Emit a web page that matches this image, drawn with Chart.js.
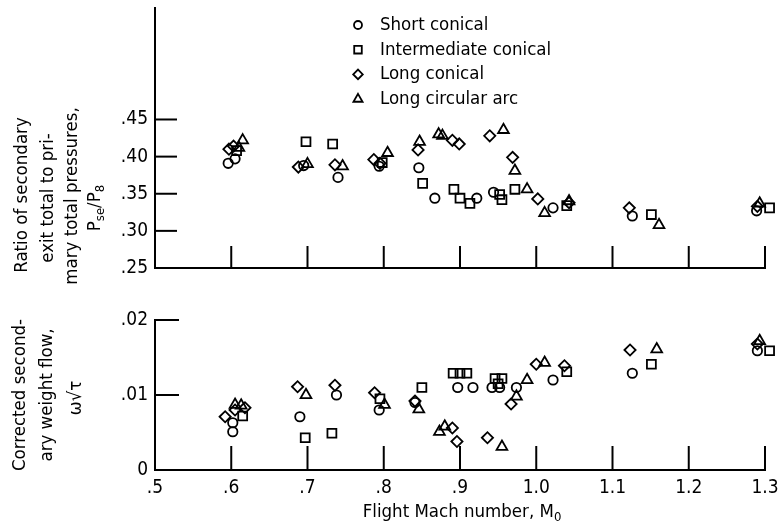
<!DOCTYPE html>
<html lang="en">
<head>
  <meta charset="UTF-8">
  <title>Secondary exit pressure ratio and weight flow</title>
  <script src="https://cdn.jsdelivr.net/npm/chart.js"></script>
  <style>
    body { margin: 0; background: #fff; }
    #wrap { position: relative; width: 783px; height: 530px; }
    #wrap canvas { position: absolute; left: 0; }
    #topChart { top: 0; }
    #botChart { top: 290px; }
  </style>
</head>
<body>
<div id="wrap">
  <canvas id="topChart" width="783" height="290"></canvas>
  <canvas id="botChart" width="783" height="240"></canvas>
</div>
<script>
  const seriesNames = ['Short conical', 'Intermediate conical', 'Long conical', 'Long circular arc'];
  const pointStyles = ['circle', 'rect', 'rectRot', 'triangle'];
  const pointSizes  = [4.7, 6.3, 5.6, 6.2];

  const xTickValues = [0.5, 0.6, 0.7, 0.8, 0.9, 1.0, 1.1, 1.2, 1.3];
  const xTickLabels = ['.5', '.6', '.7', '.8', '.9', '1.0', '1.1', '1.2', '1.3'];
  const ratioTickValues = [0.25, 0.30, 0.35, 0.40, 0.45];
  const ratioTickLabels = ['.25', '.30', '.35', '.40', '.45'];
  const flowTickValues = [0, 0.01, 0.02];
  const flowTickLabels = ['0', '.01', '.02'];

  // top panel: Pse/P8
  const shortMachTop = [0.596, 0.605, 0.695, 0.740, 0.794, 0.846, 0.867, 0.922, 0.944, 1.022, 1.126, 1.289];
  const shortRatio   = [0.391, 0.397, 0.388, 0.372, 0.387, 0.385, 0.344, 0.344, 0.352, 0.331, 0.320, 0.327];
  const interMachTop = [0.607, 0.698, 0.733, 0.798, 0.851, 0.892, 0.900, 0.913, 0.952, 0.955, 0.972, 1.040, 1.151, 1.306];
  const interRatio   = [0.408, 0.420, 0.417, 0.392, 0.364, 0.356, 0.344, 0.337, 0.349, 0.342, 0.356, 0.334, 0.322, 0.331];
  const longMachTop  = [0.597, 0.603, 0.688, 0.736, 0.787, 0.795, 0.845, 0.890, 0.899, 0.939, 0.969, 1.002, 1.043, 1.122, 1.290];
  const longRatio    = [0.410, 0.414, 0.386, 0.389, 0.396, 0.391, 0.409, 0.422, 0.417, 0.428, 0.399, 0.343, 0.338, 0.331, 0.333];
  const arcMachTop   = [0.610, 0.615, 0.700, 0.746, 0.805, 0.847, 0.872, 0.877, 0.957, 0.972, 0.988, 1.011, 1.043, 1.161, 1.293];
  const arcRatio     = [0.412, 0.422, 0.390, 0.387, 0.405, 0.420, 0.430, 0.428, 0.436, 0.381, 0.356, 0.324, 0.340, 0.308, 0.337];

  // bottom panel: corrected secondary weight flow
  const shortMachBot = [0.602, 0.602, 0.690, 0.738, 0.794, 0.841, 0.897, 0.917, 0.942, 0.952, 0.974, 1.022, 1.126, 1.290];
  const shortFlow    = [0.0063, 0.0051, 0.0071, 0.0100, 0.0080, 0.0090, 0.0110, 0.0110, 0.0110, 0.0110, 0.0110, 0.0120, 0.0129, 0.0159];
  const interMachBot = [0.615, 0.697, 0.732, 0.795, 0.850, 0.891, 0.900, 0.909, 0.946, 0.955, 0.950, 1.040, 1.151, 1.306];
  const interFlow    = [0.0072, 0.0043, 0.0049, 0.0095, 0.0110, 0.0129, 0.0129, 0.0129, 0.0122, 0.0122, 0.0115, 0.0131, 0.0141, 0.0159];
  const longMachBot  = [0.592, 0.605, 0.618, 0.687, 0.736, 0.788, 0.841, 0.890, 0.896, 0.936, 0.967, 1.000, 1.037, 1.123, 1.290];
  const longFlow     = [0.0071, 0.0080, 0.0083, 0.0111, 0.0113, 0.0103, 0.0092, 0.0056, 0.0038, 0.0043, 0.0088, 0.0141, 0.0139, 0.0160, 0.0168];
  const arcMachBot   = [0.605, 0.613, 0.698, 0.801, 0.846, 0.873, 0.880, 0.955, 0.974, 0.988, 1.011, 1.158, 1.293];
  const arcFlow      = [0.0087, 0.0086, 0.0100, 0.0087, 0.0081, 0.0051, 0.0058, 0.0031, 0.0098, 0.0120, 0.0143, 0.0161, 0.0172];

  const FONT = '"DejaVu Sans Condensed", "Liberation Sans Narrow", sans-serif';
  const TICK_SIZE = 19;
  const TEXT_SIZE = 18.5;

  function series(i, xs, ys) {
    return {
      label: seriesNames[i],
      data: xs.map((x, k) => ({ x: x, y: ys[k] })),
      pointStyle: pointStyles[i],
      pointRadius: pointSizes[i],
      pointBorderWidth: 1.8,
      pointBorderColor: '#000',
      pointBackgroundColor: 'rgba(0,0,0,0)',
      showLine: false,
      clip: false
    };
  }

  function fixedTicks(values, labels) {
    return {
      afterBuildTicks: s => { s.ticks = values.map(v => ({ value: v })); },
      labelFor: v => { const i = values.findIndex(t => Math.abs(t - v) < 1e-9); return i < 0 ? '' : labels[i]; }
    };
  }

  // tick marks point into the plot
  const inwardTicks = {
    id: 'inwardTicks',
    afterDraw(chart, args, opts) {
      const { ctx, chartArea: a, scales: { x, y } } = chart;
      ctx.save();
      ctx.strokeStyle = '#000';
      ctx.lineWidth = 2;
      opts.x.forEach(v => {
        const px = x.getPixelForValue(v);
        ctx.beginPath(); ctx.moveTo(px, a.bottom); ctx.lineTo(px, a.bottom - opts.len); ctx.stroke();
      });
      opts.y.forEach(v => {
        const py = y.getPixelForValue(v);
        ctx.beginPath(); ctx.moveTo(a.left, py); ctx.lineTo(a.left + opts.len, py); ctx.stroke();
      });
      ctx.restore();
    }
  };

  // draws text runs, some as subscripts, centred on (cx, cy)
  function drawRuns(ctx, runs, cx, cy, size, angle) {
    ctx.save();
    ctx.translate(cx, cy);
    ctx.rotate(angle);
    ctx.textBaseline = 'middle';
    ctx.textAlign = 'left';
    const fontFor = r => (r.sub ? Math.round(size * 0.72) : size) + 'px ' + FONT;
    let total = 0;
    runs.forEach(r => { ctx.font = fontFor(r); total += ctx.measureText(r.t).width; });
    let x = -total / 2;
    runs.forEach(r => {
      ctx.font = fontFor(r);
      ctx.fillText(r.t, x, r.sub ? size * 0.3 : 0);
      x += ctx.measureText(r.t).width;
    });
    ctx.restore();
  }

  const axisTitles = {
    id: 'axisTitles',
    afterDraw(chart, args, opts) {
      const ctx = chart.ctx;
      ctx.fillStyle = '#000';
      opts.lines.forEach(l => drawRuns(ctx, l.runs, l.x, l.y, opts.size, l.angle || 0));
    }
  };

  const scatterLegend = {
    id: 'scatterLegend',
    afterDraw(chart, args, opts) {
      if (!opts.show) return;
      const ctx = chart.ctx;
      ctx.save();
      chart.data.datasets.forEach((ds, i) => {
        const y = opts.y + i * opts.step;
        ctx.strokeStyle = '#000';
        ctx.fillStyle = 'rgba(0,0,0,0)';
        ctx.lineWidth = 1.8;
        Chart.helpers.drawPoint(ctx, { pointStyle: ds.pointStyle, radius: ds.pointRadius * 0.85, borderWidth: 1.8, rotation: 0 }, opts.x, y);
        ctx.fillStyle = '#000';
        ctx.font = opts.size + 'px ' + FONT;
        ctx.textBaseline = 'middle';
        ctx.fillText(ds.label, opts.x + 22, y);
      });
      ctx.restore();
    }
  };

  function baseScales(yValues, yLabels, yMax, showX, xHeight) {
    const xt = fixedTicks(xTickValues, xTickLabels);
    const yt = fixedTicks(yValues, yLabels);
    return {
      x: {
        type: 'linear', min: 0.5, max: 1.3,
        afterBuildTicks: xt.afterBuildTicks,
        afterFit: s => { s.height = xHeight; s.paddingLeft = 0; s.paddingRight = 0; },
        ticks: { display: showX, color: '#000', padding: 7, maxRotation: 0, autoSkip: false,
                 font: { family: FONT, size: TICK_SIZE }, callback: v => xt.labelFor(v) },
        grid: { display: false, drawTicks: false },
        border: { display: true, color: '#000', width: 2 }
      },
      y: {
        type: 'linear', min: yValues[0], max: yMax,
        afterBuildTicks: yt.afterBuildTicks,
        afterFit: s => { s.width = 155; s.paddingTop = 0; s.paddingBottom = 0; },
        ticks: { color: '#000', padding: 7, autoSkip: false,
                 font: { family: FONT, size: TICK_SIZE }, callback: v => yt.labelFor(v) },
        grid: { display: false, drawTicks: false },
        border: { display: true, color: '#000', width: 2 }
      }
    };
  }

  new Chart(document.getElementById('topChart'), {
    type: 'scatter',
    data: { datasets: [
      series(0, shortMachTop, shortRatio),
      series(1, interMachTop, interRatio),
      series(2, longMachTop, longRatio),
      series(3, arcMachTop, arcRatio)
    ] },
    options: {
      responsive: false, animation: false,
      layout: { padding: { top: 5, right: 18, left: 0, bottom: 0 } },
      scales: baseScales(ratioTickValues, ratioTickLabels, 0.6, false, 22),
      plugins: {
        legend: { display: false }, tooltip: { enabled: false },
        inwardTicks: { len: 22, x: xTickValues.slice(1), y: ratioTickValues.slice(1) },
        scatterLegend: { show: true, x: 358, y: 25, step: 24.7, size: TEXT_SIZE },
        axisTitles: { size: TEXT_SIZE, lines: [
          { runs: [{ t: 'Ratio of secondary' }], x: 22, y: 195, angle: -Math.PI / 2 },
          { runs: [{ t: 'exit total to pri-' }], x: 48, y: 198, angle: -Math.PI / 2 },
          { runs: [{ t: 'mary total pressures,' }], x: 72, y: 196, angle: -Math.PI / 2 },
          { runs: [{ t: 'P' }, { t: 'se', sub: true }, { t: '/P' }, { t: '8', sub: true }], x: 95, y: 208, angle: -Math.PI / 2 }
        ] }
      }
    },
    plugins: [inwardTicks, scatterLegend, axisTitles]
  });

  new Chart(document.getElementById('botChart'), {
    type: 'scatter',
    data: { datasets: [
      series(0, shortMachBot, shortFlow),
      series(1, interMachBot, interFlow),
      series(2, longMachBot, longFlow),
      series(3, arcMachBot, arcFlow)
    ] },
    options: {
      responsive: false, animation: false,
      layout: { padding: { top: 30, right: 18, left: 0, bottom: 0 } },
      scales: baseScales(flowTickValues, flowTickLabels, 0.02, true, 60),
      plugins: {
        legend: { display: false }, tooltip: { enabled: false },
        inwardTicks: { len: 24, x: xTickValues.slice(1), y: flowTickValues.slice(1) },
        scatterLegend: { show: false },
        axisTitles: { size: TEXT_SIZE, lines: [
          { runs: [{ t: 'Corrected second-' }], x: 20, y: 105, angle: -Math.PI / 2 },
          { runs: [{ t: 'ary weight flow,' }], x: 47, y: 105, angle: -Math.PI / 2 },
          { runs: [{ t: 'ω√τ' }], x: 76, y: 108, angle: -Math.PI / 2 },
          { runs: [{ t: 'Flight Mach number, M' }, { t: '0', sub: true }], x: 462, y: 222 }
        ] }
      }
    },
    plugins: [inwardTicks, scatterLegend, axisTitles]
  });
</script>
</body>
</html>
